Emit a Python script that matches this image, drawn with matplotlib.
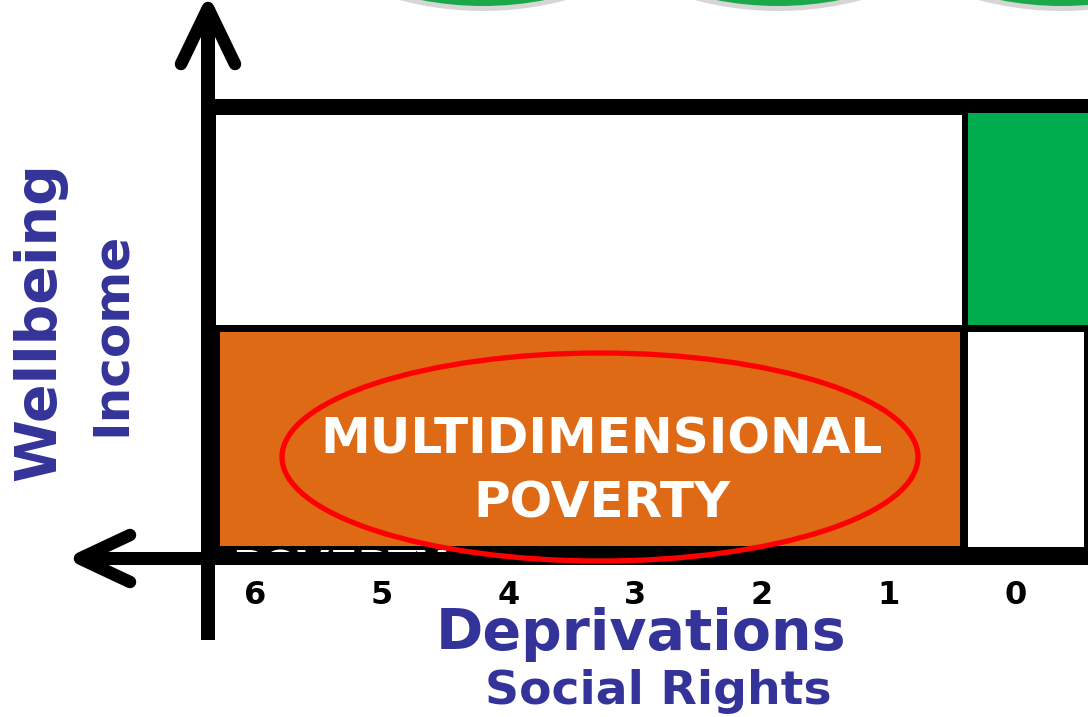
import matplotlib.pyplot as plt
from matplotlib.patches import Rectangle, Ellipse, Circle

# diagram content
deprivations = [6, 5, 4, 3, 2, 1, 0]
x_title = "Deprivations"
x_subtitle = "Social Rights"
y_title = "Wellbeing"
y_subtitle = "Income"
box_lines = ["MULTIDIMENSIONAL", "POVERTY"]

BLUE = "#333399"
ORANGE = "#de6a15"
GREEN = "#00ad4e"
BOLD = dict(family="DejaVu Sans", fontweight="bold")

fig = plt.figure(figsize=(10.88, 7.17), dpi=100)
ax = fig.add_axes([0, 0, 1, 1])
ax.set_xlim(0, 1088)
ax.set_ylim(717, 0)
ax.axis("off")

# green circles cut off at the top edge
for cx in [483, 778, 1062]:
    ax.add_patch(Circle((cx, -313), 324, color="#8c8c8c", alpha=0.35, lw=0, zorder=1))
    ax.add_patch(Circle((cx, -318), 324, color="#1aa84a", lw=0, zorder=2))

# black frame and quadrants
ax.add_patch(Rectangle((201, 99), 887, 466, color="black", lw=0, zorder=3))
ax.add_patch(Rectangle((216, 115), 746, 210, color="white", lw=0, zorder=4))
ax.add_patch(Rectangle((968, 113), 120, 212, color=GREEN, lw=0, zorder=4))
ax.add_patch(Rectangle((220, 332), 740, 214, color=ORANGE, lw=0, zorder=4))
ax.add_patch(Rectangle((968, 332), 116, 215, color="white", lw=0, zorder=4))

# hidden white text peeking through the bottom band
band = Rectangle((201, 546), 887, 7, transform=ax.transData)
hidden = ax.text(232, 549, "POVERTY", color="white", fontsize=30, ha="left", va="top",
                 zorder=5, **BOLD)
hidden.set_clip_path(band)

# vertical axis with arrow
ax.add_patch(Rectangle((201, 12), 14, 628, color="black", lw=0, zorder=6))
ax.plot([181, 208, 235], [64, 8, 64], color="black", lw=9,
        solid_capstyle="round", solid_joinstyle="round", zorder=6)

# horizontal axis with arrow
ax.add_patch(Rectangle((82, 552), 1006, 13, color="black", lw=0, zorder=6))
ax.plot([130, 80, 130], [535, 558.5, 582], color="black", lw=9,
        solid_capstyle="round", solid_joinstyle="round", zorder=6)

# red ellipse with label
ax.add_patch(Ellipse((600, 457), 636, 208, fill=False, edgecolor="#ff0000", lw=3.8, zorder=7))
for text, y in zip(box_lines, [440, 504]):
    ax.text(602, y, text, color="white", fontsize=36, ha="center", va="center",
            zorder=8, **BOLD)

# deprivation ticks
for d in deprivations:
    ax.text(255 + (6 - d) * 126.7, 596, str(d), color="black", fontsize=23,
            ha="center", va="center", zorder=9, **BOLD)

ax.text(641, 634, x_title, color=BLUE, fontsize=41, ha="center", va="center", zorder=9, **BOLD)
ax.text(658, 692, x_subtitle, color=BLUE, fontsize=34, ha="center", va="center", zorder=9, **BOLD)
ax.text(40, 322, y_title, color=BLUE, fontsize=41, rotation=90, ha="center", va="center", zorder=9, **BOLD)
ax.text(111, 334, y_subtitle, color=BLUE, fontsize=36, rotation=90, ha="center", va="center", zorder=9, **BOLD)

fig.savefig("out.png", dpi=100)
